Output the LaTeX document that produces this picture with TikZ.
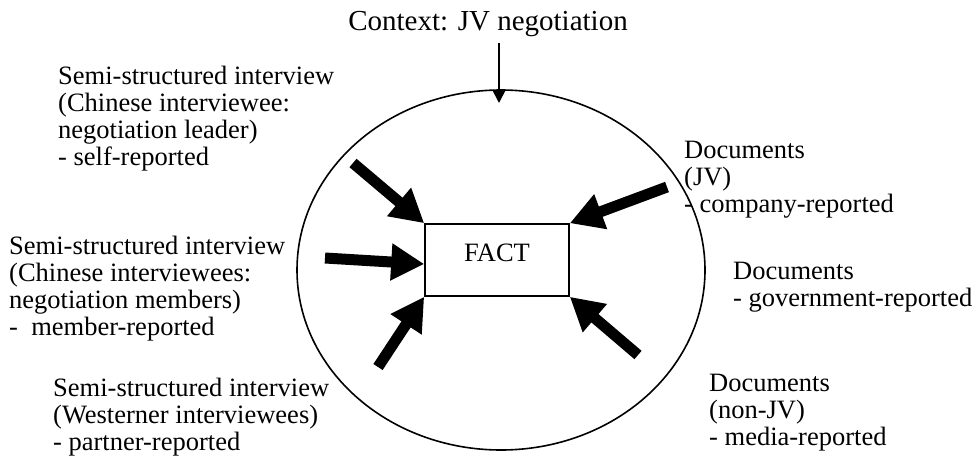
\documentclass[tikz,border=0pt]{standalone}
\usepackage{fontspec}
\setmainfont{Liberation Serif}
\usetikzlibrary{arrows.meta}
\begin{document}
\begin{tikzpicture}[x=1pt,y=-1pt,
  lbl/.style={anchor=north west,inner sep=0pt,align=left,font=\fontsize{26.5}{27}\selectfont},
  fat/.style={line width=11pt,-{Triangle[width=35pt,length=33pt]}},
  thin/.style={line width=1.8pt,-{Triangle[width=13pt,length=13pt]}}]
\useasboundingbox (0,0) rectangle (977,463);
% enclosing ellipse and central box
\draw[line width=1.6pt] (501,270) ellipse [x radius=204pt,y radius=180pt];
\node[draw,line width=1.6pt,minimum width=144pt,minimum height=72pt,inner sep=0pt] (fact) at (497,260) {};
\node[inner sep=0pt,font=\fontsize{26.5}{27}\selectfont] (facttxt) at (497,253) {FACT};
% context label and its arrow
\node[anchor=base,inner sep=0pt,font=\fontsize{29}{31}\selectfont] (ctx) at (488,30) {Context: JV negotiation};
\coordinate (ctxtip) at (499,103);
\draw[thin] (499,43) -- (ctxtip);
% evidence sources
\node[lbl] (s1) at (58,65.5) {Semi-structured interview\\(Chinese interviewee:\\negotiation leader)\\- self-reported};
\node[lbl] (s2) at (9,235.5) {Semi-structured interview\\(Chinese interviewees:\\negotiation members)\\-\ \ member-reported};
\node[lbl] (s3) at (53,377.5) {Semi-structured interview\\(Westerner interviewees)\\- partner-reported};
\node[lbl] (d1) at (684,140.5) {Documents\\(JV)\\- company-reported};
\node[lbl] (d2) at (733,261.5) {Documents\\- government-reported};
\node[lbl] (d3) at (709,373.5) {Documents\\(non-JV)\\- media-reported};
% arrow tails
\coordinate (t1) at (353,163);
\coordinate (t2) at (325,258);
\coordinate (t3) at (378,367);
\coordinate (t4) at (667,187);
\coordinate (t5) at (638,355);
\draw[fat] (t1) -- (fact.north west);
\draw[fat] (t2) -- ([yshift=-4pt]fact.west);
\draw[fat] (t3) -- (fact.south west);
\draw[fat] (t4) -- (fact.north east);
\draw[fat] (t5) -- (fact.south east);
\end{tikzpicture}
\end{document}
